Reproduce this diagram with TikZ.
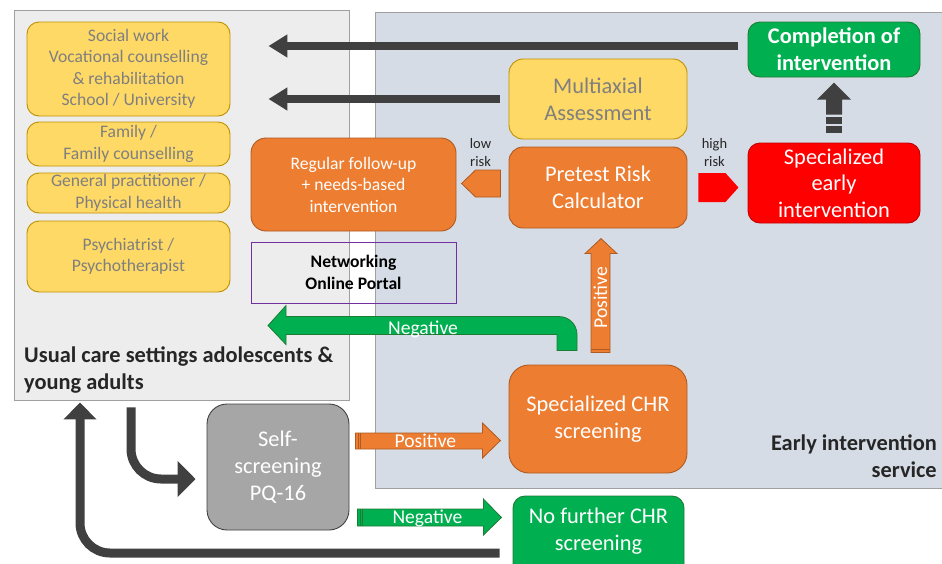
\documentclass[tikz,border=0pt]{standalone}
\usepackage{fontspec}
\setmainfont{Carlito}
\usetikzlibrary{arrows.meta,calc}
\definecolor{cOrange}{HTML}{ED7D31}
\definecolor{cOrangeD}{HTML}{AE5A21}
\definecolor{cYellow}{HTML}{FFD966}
\definecolor{cYellowD}{HTML}{BF9000}
\definecolor{cGrayT}{HTML}{7F7F7F}
\definecolor{cGreen}{HTML}{00B050}
\definecolor{cGreenD}{HTML}{1E7B34}
\definecolor{cRed}{HTML}{FF0000}
\definecolor{cRedD}{HTML}{C00000}
\definecolor{cDark}{HTML}{404040}
\definecolor{cTxt}{HTML}{262626}
\definecolor{cUsual}{HTML}{EDEDED}
\definecolor{cEis}{HTML}{D6DCE5}
\definecolor{cFrame}{HTML}{A0A0A0}
\definecolor{cSelf}{HTML}{A6A6A6}
\definecolor{cPurple}{HTML}{7030A0}
\newcommand{\fsS}{\fontsize{17.6}{21.5}\selectfont}
\newcommand{\fsL}{\fontsize{22.4}{26.7}\selectfont}
\newcommand{\fsM}{\fontsize{19.6}{23}\selectfont}
\newcommand{\fsT}{\fontsize{14.5}{18.5}\selectfont}
\begin{document}
\begin{tikzpicture}[x=1pt,y=-1pt,
  sz/.style 2 args={minimum width=#1pt, minimum height=#2pt},
  box/.style={rounded corners=12pt, inner sep=0pt, align=center, line width=0.9pt},
  ybox/.style={box, fill=cYellow, draw=cYellowD, text=cGrayT},
  obox/.style={box, fill=cOrange, draw=cOrangeD, text=white},
  gbox/.style={box, fill=cGreen, draw=cGreenD, text=white},
  rbox/.style={box, fill=cRed, draw=cRedD, text=white},
  area/.style={inner sep=0pt, draw=cFrame, line width=0.9pt},
  darkline/.style={draw=cDark, line width=8pt},
  barrow/.style={line width=0.8pt, line join=miter},
]
\useasboundingbox (0,0) rectangle (942,563);
\clip (0,0) rectangle (942,563);

% background areas
\node[area, fill=cUsual, sz={335}{390}] (usual) at (181.5,205) {};
\node[area, fill=cEis, sz={570}{476}] (eis) at (660,250) {};

% usual care boxes
\node[ybox, sz={203}{94}, font=\fsS] (social) at (128.5,69) {Social work\\Vocational counselling\\\& rehabilitation\\School / University};
\node[ybox, sz={203}{44}, font=\fsS] (family) at (128.5,144) {Family /\\Family counselling};
\node[ybox, sz={203}{40}, font=\fsS] (gp) at (128.5,193) {General practitioner /\\Physical health};
\node[ybox, sz={203}{71}, font=\fsS] (psych) at (128.5,256.5) {Psychiatrist /\\Psychotherapist};

\node[anchor=west, align=left, font=\fsL\bfseries, text=cTxt, inner sep=0pt] (usualtitle) at (24,370) {Usual care settings adolescents \&\\young adults};
\node[anchor=east, align=right, font=\fsL\bfseries, text=cTxt, inner sep=0pt] (eistitle) at (937,456.5) {Early intervention\\service};

% early intervention boxes
\node[obox, rounded corners=15pt, sz={205}{93}, font=\fsS] (regular) at (353.5,184.5) {Regular follow-up\\+ needs-based\\intervention};
\node[inner sep=0pt, draw=cPurple, line width=0.7pt, sz={205}{61}, align=center, font=\fsS\bfseries, text=black] (portal) at (353.5,272.5) {Networking\\Online Portal};
\node[ybox, rounded corners=14pt, sz={178}{80}, font=\fsL] (multi) at (598,99) {Multiaxial\\Assessment};
\node[obox, rounded corners=14pt, sz={178}{81}, font=\fsL] (pretest) at (598,187.5) {Pretest Risk\\Calculator};
\node[rbox, sz={172}{80}, font=\fsL] (sei) at (834,183) {Specialized\\early\\intervention};
\node[gbox, sz={172}{55}, font=\fsL\bfseries] (completion) at (834,49.5) {Completion of\\intervention};
\node[obox, rounded corners=20pt, sz={178}{108}, font=\fsL] (chr) at (598,419) {Specialized CHR\\screening};
\node[box, rounded corners=20pt, fill=cSelf, draw=cDark, text=white, sz={142}{126}, font=\fsL] (self) at (278,467) {Self-\\screening\\PQ-16};
\node[gbox, sz={171}{82}] (nofurther) at (598.5,537) {};
\node[inner sep=0pt, align=center, font=\fsL, text=white] (nofurthertext) at ([yshift=6pt]nofurther.center) {No further CHR\\screening};

% dark arrows to usual care
\draw[darkline, -{Triangle[width=22pt,length=19pt]}] ([shift={(-10,-3.5)}]completion.west) -- ($(social.east |- completion.west)+(38,-3.5)$);
\draw[darkline, -{Triangle[width=22pt,length=19pt]}] ([xshift=-9pt]multi.west) -- ($(social.east |- multi.west)+(38,0)$);

% low risk / high risk
\begin{scope}[shift={(pretest.west)}]
  \filldraw[barrow, fill=cOrange, draw=cOrangeD] (-8,-17.5) -- (-33,-17.5) -- (-47,-4) -- (-33,9.5) -- (-8,9.5) -- cycle;
  \node[font=\fsT, text=cTxt, align=center, inner sep=0pt] (lowrisk) at (-28,-35) {low\\risk};
\end{scope}
\begin{scope}[shift={(pretest.east)}]
  \fill[cRed] (11,-14.5) -- (38,-14.5) -- (51,0) -- (38,14.5) -- (11,14.5) -- cycle;
  \node[font=\fsT, text=cTxt, align=center, inner sep=0pt] (highrisk) at (27,-35) {high\\risk};
\end{scope}

% completion arrow (striped)
\begin{scope}[shift={(sei.north)}]
  \fill[cDark] (-17,-43) -- (0,-60) -- (17,-43) -- (8,-43) -- (8,-28) -- (-8,-28) -- (-8,-43) -- cycle;
  \fill[cDark] (-8,-26) rectangle (8,-19);
  \fill[cDark] (-8,-17) rectangle (8,-10);
\end{scope}

% green U arrow Negative and orange Positive up
\begin{scope}[shift={(chr.north)}]
  \filldraw[barrow, fill=cGreen, draw=cGreenD] (-41,-14) -- (-21,-14) -- (-21,-30)
     .. controls (-21,-40) and (-29,-48) .. (-39,-48) -- (-312,-48) -- (-312,-59)
     -- (-330,-39) -- (-312,-20) -- (-312,-30) -- (-41,-30) -- cycle;
  \node[font=\fsM, text=white, inner sep=0pt] (negtop) at (-175,-35) {Negative};
  \filldraw[barrow, fill=cOrange, draw=cOrangeD] (-7,-12) -- (-7,-111) -- (-13,-111) -- (3,-126)
     -- (19,-111) -- (12,-111) -- (12,-12) -- cycle;
  \draw[cOrangeD, line width=0.8pt] (-7,-15) -- (12,-15);
  \node[font=\fsM, text=white, inner sep=0pt, rotate=90] (posup) at (2.5,-67) {Positive};
\end{scope}

% self-screening outputs
\begin{scope}[shift={(self.east)}]
  \filldraw[barrow, fill=cOrange, draw=cOrangeD] (6,-34) -- (133,-34) -- (133,-44) -- (151,-26.5)
     -- (133,-9) -- (133,-18) -- (6,-18) -- cycle;
  \draw[cOrangeD, line width=0.8pt] (9,-34) -- (9,-18) (11,-34) -- (11,-18);
  \node[font=\fsM, text=white, inner sep=0pt] (posright) at (76,-26) {Positive};
  \filldraw[barrow, fill=cGreen, draw=cGreenD] (8,42) -- (134,42) -- (134,32) -- (152,50.5)
     -- (134,68) -- (134,59) -- (8,59) -- cycle;
  \draw[cGreenD, line width=0.8pt] (11,42) -- (11,59) (13,42) -- (13,59);
  \node[font=\fsM, text=white, inner sep=0pt] (negright) at (78,51) {Negative};
\end{scope}

% usual care -> self-screening
\draw[darkline, line width=9pt, rounded corners=30pt, -{Triangle[width=35pt,length=18pt]}]
  ([shift={(-50.5,7)}]usual.south) |- ([shift={(-11,12)}]self.west);
% no further -> usual care
\draw[darkline, line width=9pt, rounded corners=30pt, -{Triangle[width=32pt,length=17pt]}]
  ([shift={(-13,16)}]nofurther.west) -| ([shift={(-101.5,2)}]usual.south);
\end{tikzpicture}
\end{document}
